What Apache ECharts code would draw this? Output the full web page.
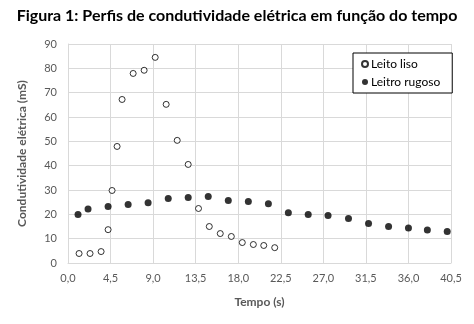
<!DOCTYPE html>
<html>
<head>
<meta charset="utf-8">
<script src="https://cdn.jsdelivr.net/npm/echarts@6/dist/echarts.min.js"></script>
<style>
  html, body { margin: 0; padding: 0; background: #fff; }
  #chart { width: 474px; height: 324px; }
</style>
</head>
<body>
<div id="chart"></div>
<script>
// Condutividade elétrica (mS) ao longo do tempo (s)
const lisoTempo = [1.17, 2.33, 3.5, 4.24, 4.66, 5.19, 5.72, 6.89, 8.05, 9.22, 10.38, 11.55, 12.71, 13.8, 14.94, 16.1, 17.27, 18.43, 19.6, 20.7, 21.86];
const lisoValores = [3.9, 3.9, 4.7, 13.7, 29.8, 47.9, 67.2, 77.9, 79.2, 84.5, 65.2, 50.4, 40.5, 22.4, 15.0, 12.1, 10.9, 8.4, 7.6, 7.2, 6.3];

const rugosoTempo = [1.06, 2.12, 4.24, 6.36, 8.47, 10.6, 12.71, 14.83, 16.95, 19.07, 21.19, 23.3, 25.4, 27.5, 29.66, 31.78, 33.9, 36.0, 38.0, 40.1];
const rugosoValores = [19.9, 22.2, 23.2, 24.0, 24.8, 26.5, 26.9, 27.3, 25.7, 25.3, 24.4, 20.7, 19.9, 19.5, 18.3, 16.2, 15.0, 14.4, 13.6, 12.9];

const xTicks = { min: 0, max: 40.5, step: 4.5 };
const yTicks = { min: 0, max: 90, step: 10 };

const pares = (xs, ys) => xs.map((x, i) => [x, ys[i]]);

const FONT = 'Lato';
const chart = echarts.init(document.getElementById('chart'), null, { renderer: 'canvas' });
chart.setOption({
  animation: false,
  backgroundColor: '#ffffff',
  title: {
    text: 'Figura 1: Perfis de condutividade elétrica em função do tempo',
    left: 'center',
    top: 3,
    textStyle: { fontFamily: FONT, fontSize: 16, fontWeight: 'bold', color: '#000' }
  },
  legend: {
    orient: 'vertical',
    left: 353,
    top: 53,
    backgroundColor: '#fff',
    borderColor: '#000',
    borderWidth: 1,
    padding: [5, 12, 5, 8],
    itemGap: 6,
    itemWidth: 6,
    itemHeight: 6,
    textStyle: { fontFamily: FONT, fontSize: 12, color: '#000', padding: [0, 0, 0, -2] },
    data: [
      { name: 'Leito liso', icon: 'circle' },
      { name: 'Leitro rugoso', icon: 'circle' }
    ]
  },
  grid: { left: 68, right: 23, top: 44, bottom: 61, containLabel: false },
  xAxis: {
    type: 'value',
    min: xTicks.min,
    max: xTicks.max,
    interval: xTicks.step,
    name: 'Tempo (s)',
    nameLocation: 'middle',
    nameGap: 33,
    nameTextStyle: { fontFamily: FONT, fontSize: 12, fontWeight: 'bold', color: '#595959' },
    axisLine: { show: true, lineStyle: { color: '#d9d9d9' } },
    axisTick: { show: false },
    axisLabel: {
      fontFamily: FONT, fontSize: 11, color: '#595959', margin: 10,
      formatter: v => v.toFixed(1).replace('.', ',')
    },
    splitLine: { show: true, lineStyle: { color: '#d9d9d9' } }
  },
  yAxis: {
    type: 'value',
    min: yTicks.min,
    max: yTicks.max,
    interval: yTicks.step,
    name: 'Condutividade elétrica (mS)',
    nameLocation: 'middle',
    nameGap: 40,
    nameTextStyle: { fontFamily: FONT, fontSize: 12, fontWeight: 'bold', color: '#595959' },
    axisLine: { show: true, lineStyle: { color: '#d9d9d9' } },
    axisTick: { show: false },
    axisLabel: { fontFamily: FONT, fontSize: 11, color: '#595959', margin: 11 },
    splitLine: { show: true, lineStyle: { color: '#d9d9d9' } }
  },
  series: [
    {
      name: 'Leito liso',
      type: 'scatter',
      symbol: 'circle',
      symbolSize: 6,
      itemStyle: { color: '#ffffff', borderColor: '#000000', borderWidth: 1 },
      data: pares(lisoTempo, lisoValores)
    },
    {
      name: 'Leitro rugoso',
      type: 'scatter',
      symbol: 'circle',
      symbolSize: 7,
      itemStyle: { color: '#000000' },
      data: pares(rugosoTempo, rugosoValores)
    }
  ]
});
</script>
</body>
</html>
